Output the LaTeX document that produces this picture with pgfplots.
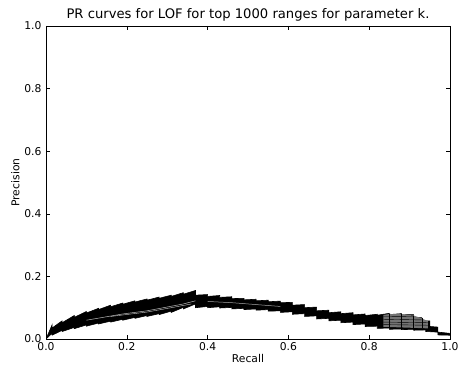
\documentclass[border=0pt]{standalone}
\usepackage{pgfplots}
\pgfplotsset{compat=1.18}
\usepgfplotslibrary{fillbetween}
\usepackage{fontspec}
\setmainfont{DejaVu Sans}
\begin{document}
\begin{tikzpicture}
\begin{axis}[
  scale only axis,
  width=404bp, height=313bp,
  xmin=0, xmax=1, ymin=0, ymax=1,
  xtick={0,0.2,0.4,0.6,0.8,1.0},
  ytick={0,0.2,0.4,0.6,0.8,1.0},
  xticklabels={0.0,0.2,0.4,0.6,0.8,1.0},
  yticklabels={0.0,0.2,0.4,0.6,0.8,1.0},
  tick align=inside,
  major tick length=4bp,
  tick style={black, line width=0.6pt},
  axis line style={black, line width=0.8pt},
  ticklabel style={font=\fontsize{10.8}{12}\selectfont},
  xticklabel style={yshift=0bp},
  yticklabel style={xshift=-1bp},
  /pgf/number format/assume math mode=true,
  xlabel={Recall}, ylabel={Precision},
  label style={font=\fontsize{10.8}{12}\selectfont},
  xlabel style={yshift=3bp},
  ylabel style={yshift=-2bp},
  title={PR curves for LOF for top 1000 ranges for parameter k.},
  title style={font=\fontsize{13.2}{15}\selectfont, yshift=-5bp},
  clip=true,
]
\addplot[name path=U, black, line width=0.6pt] coordinates {
(0,0) (0.015,0.045) (0.015,0.035) (0.04,0.058) (0.04,0.052) (0.07,0.075) (0.07,0.069)
(0.10,0.088) (0.10,0.083) (0.13,0.098) (0.13,0.094) (0.16,0.108) (0.16,0.103)
(0.19,0.115) (0.19,0.111) (0.22,0.122) (0.22,0.118) (0.25,0.128) (0.25,0.124)
(0.28,0.134) (0.28,0.130) (0.31,0.140) (0.31,0.136) (0.34,0.148) (0.34,0.143)
(0.37,0.155) (0.37,0.140) (0.40,0.142) (0.40,0.136) (0.43,0.139) (0.43,0.133)
(0.46,0.135) (0.46,0.129) (0.49,0.130) (0.49,0.125) (0.52,0.127) (0.52,0.122)
(0.55,0.124) (0.55,0.119) (0.58,0.121) (0.58,0.116) (0.61,0.117) (0.61,0.108)
(0.64,0.110) (0.64,0.100) (0.67,0.102) (0.67,0.090) (0.70,0.092) (0.70,0.084)
(0.73,0.087) (0.73,0.081) (0.76,0.084) (0.76,0.077) (0.79,0.080) (0.79,0.075)
(0.82,0.079) (0.82,0.076) (0.85,0.082) (0.85,0.078) (0.88,0.081) (0.88,0.077)
(0.91,0.078) (0.91,0.068) (0.93,0.068) (0.93,0.058) (0.95,0.058) (0.95,0.040)
(0.97,0.038) (0.97,0.022) (1.0,0.018)
};
\addplot[name path=L, black, line width=0.6pt] coordinates {
(0,0) (0.015,0.018) (0.015,0.012) (0.04,0.028) (0.04,0.024) (0.07,0.037) (0.07,0.033)
(0.10,0.045) (0.10,0.041) (0.13,0.051) (0.13,0.048) (0.16,0.057) (0.16,0.054)
(0.19,0.063) (0.19,0.060) (0.22,0.069) (0.22,0.066) (0.25,0.075) (0.25,0.072)
(0.28,0.081) (0.28,0.078) (0.31,0.089) (0.31,0.085) (0.34,0.101) (0.34,0.096)
(0.37,0.112) (0.37,0.100) (0.40,0.104) (0.40,0.100) (0.43,0.103) (0.43,0.099)
(0.46,0.101) (0.46,0.096) (0.49,0.098) (0.49,0.094) (0.52,0.096) (0.52,0.092)
(0.55,0.094) (0.55,0.089) (0.58,0.090) (0.58,0.085) (0.61,0.087) (0.61,0.079)
(0.64,0.081) (0.64,0.072) (0.67,0.074) (0.67,0.064) (0.70,0.066) (0.70,0.058)
(0.73,0.060) (0.73,0.052) (0.76,0.054) (0.76,0.046) (0.79,0.048) (0.79,0.040)
(0.82,0.041) (0.82,0.034) (0.85,0.035) (0.85,0.031) (0.88,0.032) (0.88,0.030)
(0.91,0.031) (0.91,0.028) (0.94,0.029) (0.94,0.024) (0.97,0.022) (0.97,0.013)
(1.0,0.012)
};
\addplot[black] fill between[of=U and L];
% grey section of the band at high recall
\addplot[fill=black!55, draw=none] coordinates {
(0.835,0.077) (0.85,0.080) (0.88,0.079) (0.91,0.075) (0.93,0.066) (0.945,0.057)
(0.945,0.034) (0.835,0.039) } -- cycle;
\addplot[black, line width=0.4pt] coordinates {(0.835,0.072) (0.91,0.071)};
\addplot[black, line width=0.4pt] coordinates {(0.835,0.063) (0.93,0.061)};
\addplot[black, line width=0.4pt] coordinates {(0.835,0.054) (0.945,0.052)};
\addplot[black, line width=0.4pt] coordinates {(0.835,0.046) (0.945,0.044)};
\addplot[black, line width=0.4pt] coordinates {(0.85,0.080) (0.85,0.036)};
\addplot[black, line width=0.4pt] coordinates {(0.88,0.079) (0.88,0.035)};
\addplot[black, line width=0.4pt] coordinates {(0.91,0.075) (0.91,0.034)};
\addplot[black, line width=0.4pt] coordinates {(0.93,0.066) (0.93,0.034)};
% lighter texture lines inside the band
\addplot[gray!55, line width=0.5pt] coordinates {(0.10,0.060) (0.19,0.080) (0.25,0.090) (0.34,0.112) (0.37,0.122)};
\addplot[gray!45, line width=0.4pt] coordinates {(0.16,0.072) (0.25,0.086) (0.31,0.100) (0.36,0.112)};
\addplot[gray!70, line width=0.5pt] coordinates {(0.40,0.120) (0.46,0.116) (0.52,0.110) (0.58,0.104)};
\end{axis}
\pgfresetboundingbox
\path ([xshift=-46bp,yshift=-32bp]current axis.south west) rectangle ([xshift=8bp,yshift=26bp]current axis.north east);
\end{tikzpicture}
\end{document}
